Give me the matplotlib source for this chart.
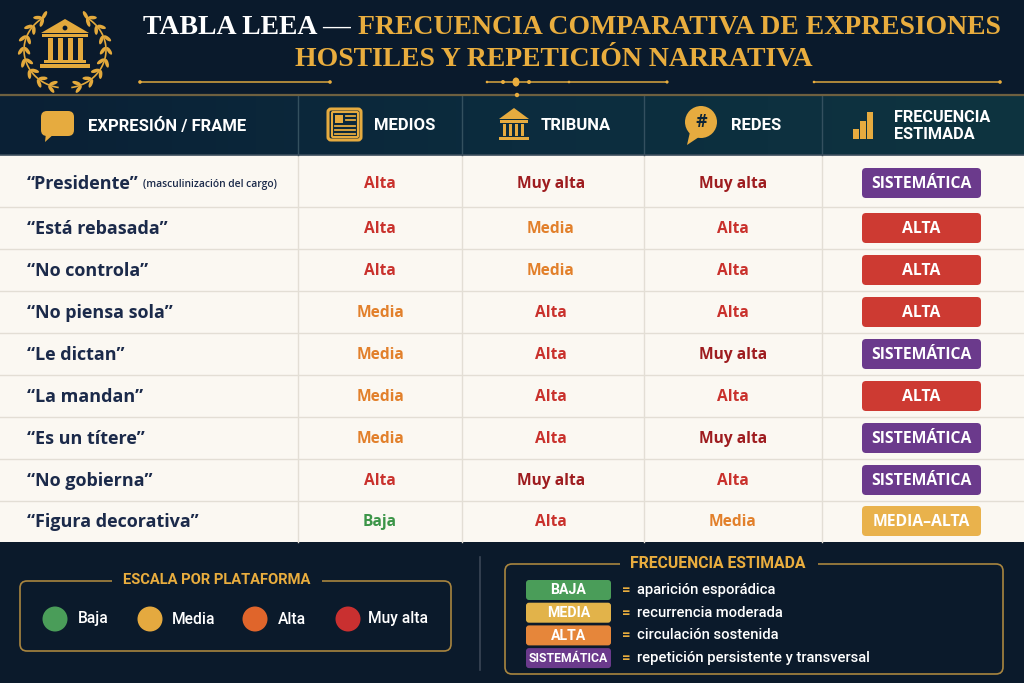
import matplotlib
matplotlib.use('Agg')
import matplotlib.pyplot as plt
from matplotlib.patches import FancyBboxPatch, Rectangle, Circle, Ellipse, Polygon
from matplotlib.colors import LinearSegmentedColormap
import numpy as np

# ---------------- data ----------------
titulo_blanco = "TABLA LEEA — "
titulo_oro_1 = "FRECUENCIA COMPARATIVA DE EXPRESIONES"
titulo_oro_2 = "HOSTILES Y REPETICIÓN NARRATIVA"
columnas = ["EXPRESIÓN / FRAME", "MEDIOS", "TRIBUNA", "REDES", "FRECUENCIA\nESTIMADA"]
expresiones = ["Presidente", "Está rebasada", "No controla", "No piensa sola", "Le dictan",
               "La mandan", "Es un títere", "No gobierna", "Figura decorativa"]
nota_primera = "(masculinización del cargo)"
medios = ["Alta", "Alta", "Alta", "Media", "Media", "Media", "Media", "Alta", "Baja"]
tribuna = ["Muy alta", "Media", "Media", "Alta", "Alta", "Alta", "Alta", "Muy alta", "Alta"]
redes = ["Muy alta", "Alta", "Alta", "Alta", "Muy alta", "Alta", "Muy alta", "Alta", "Media"]
frecuencia = ["SISTEMÁTICA", "ALTA", "ALTA", "ALTA", "SISTEMÁTICA", "ALTA", "SISTEMÁTICA",
              "SISTEMÁTICA", "MEDIA–ALTA"]
escala_titulo = "ESCALA POR PLATAFORMA"
escala = ["Baja", "Media", "Alta", "Muy alta"]
frec_titulo = "FRECUENCIA ESTIMADA"
frec_niveles = ["BAJA", "MEDIA", "ALTA", "SISTEMÁTICA"]
frec_desc = ["aparición esporádica", "recurrencia moderada", "circulación sostenida",
             "repetición persistente y transversal"]

# ---------------- styles ----------------
NAVY = '#0b1b2d'
GOLD = '#e9ad3e'
CREAM = '#fbf8f2'
GRID = '#e3ded5'
ROWTXT = '#1b2a4a'
val_color = {'Alta': '#c9312c', 'Muy alta': '#9e1c1f', 'Media': '#e2802b', 'Baja': '#3b9548'}
badge_color = {'SISTEMÁTICA': '#6b3a8c', 'ALTA': '#cd3a32', 'MEDIA–ALTA': '#e9b24c'}
esc_color = {'Baja': '#4a9d59', 'Media': '#e4a93f', 'Alta': '#e0652b', 'Muy alta': '#c93030'}
lev_color = {'BAJA': '#4a9d59', 'MEDIA': '#e2b34a', 'ALTA': '#e6863a', 'SISTEMÁTICA': '#6b3a8c'}

SANS = ['Open Sans', 'DejaVu Sans']
COND = ['Roboto', 'DejaVu Sans']
SERIF = ['Liberation Serif', 'DejaVu Serif']

W, H = 1024, 683
fig = plt.figure(figsize=(10.24, 6.83), dpi=100)
fig.patch.set_facecolor(NAVY)
ax = fig.add_axes([0, 0, 1, 1])
ax.set_xlim(0, W)
ax.set_ylim(H, 0)
ax.axis('off')
r = fig.canvas.get_renderer()


def fit(s, x, y, width, ha='left', va='center', base=12, **kw):
    t = ax.text(x, y, s, fontsize=base, ha=ha, va=va, **kw)
    w = t.get_window_extent(renderer=r).width
    t.set_fontsize(base * width / w)
    return t


def width_of(t):
    return t.get_window_extent(renderer=r).width


def rbox(x, y, w, h, fc, ec='none', lw=1, rs=4, z=2):
    p = FancyBboxPatch((x, y), w, h, boxstyle=f"round,pad=0,rounding_size={rs}",
                       fc=fc, ec=ec, lw=lw, zorder=z)
    ax.add_patch(p)
    return p


# ---------------- backgrounds ----------------
ax.add_patch(Rectangle((0, 0), W, 95, fc='#0a1a2c', ec='none', zorder=0))
grad = np.linspace(0, 1, 256)[None, :]
cm_head = LinearSegmentedColormap.from_list('h', ['#0a2035', '#0c2c3e', '#0e3440'])
ax.imshow(grad, extent=[0, W, 155, 95], cmap=cm_head, aspect='auto', zorder=0.5)
ax.add_patch(Rectangle((0, 542), W, H - 542, fc='#0b1a2b', ec='none', zorder=0))
ax.plot([0, W], [94.5, 94.5], color='#6e6040', lw=1.6, zorder=3)
ax.add_patch(Circle((517, 95), 2.2, fc=GOLD, ec='none', zorder=4))

# table body
row_edges = [155, 207, 249, 291, 333, 375, 417, 459, 501, 542]
row_centers = [183, 228, 270, 312, 354, 396, 438, 480, 521]
col_edges = [0, 298, 462, 644, 822, W]
ax.add_patch(Rectangle((0, 155), W, 542 - 155, fc=CREAM, ec='none', zorder=0.6))
for ye in row_edges[1:-1]:
    ax.plot([0, W], [ye, ye], color=GRID, lw=1, zorder=1)
for xe in col_edges[1:-1]:
    ax.plot([xe, xe], [155, 542], color=GRID, lw=1, zorder=1)
    ax.plot([xe, xe], [95, 155], color='#34505f', lw=1, zorder=1)
ax.plot([0, W], [155, 155], color='#3b4d5c', lw=1.2, zorder=1)

# ---------------- title ----------------
t1 = ax.text(143, 27, titulo_blanco + titulo_oro_1, fontsize=20, fontfamily=SERIF,
             fontweight='bold', ha='left', va='center', color='white')
wtot = width_of(t1)
fs = 20 * (1002 - 143) / wtot
t1.set_fontsize(fs)
t1.set_text(titulo_blanco)
w1 = width_of(t1)
ax.text(143 + w1, 27, titulo_oro_1, fontsize=fs, fontfamily=SERIF, fontweight='bold',
        ha='left', va='center', color=GOLD)
ax.text(554, 60, titulo_oro_2, fontsize=fs, fontfamily=SERIF, fontweight='bold',
        ha='center', va='center', color=GOLD)

# ornaments
oc = '#c99a3e'
ax.plot([140, 330], [82, 82], color=oc, lw=1.2, zorder=3)
ax.plot([814, 1000], [82, 82], color=oc, lw=1.2, zorder=3)
ax.plot([487, 667], [82, 82], color=oc, lw=1.2, zorder=3)
for px, rad in [(140, 1.8), (330, 1.8), (814, 1.3), (1000, 1.8), (487, 1.3), (667, 1.6),
                (503, 2.0), (529, 2.0), (569, 1.3)]:
    ax.add_patch(Circle((px, 82), rad, fc=GOLD, ec='none', zorder=4))
ax.add_patch(Ellipse((516, 82), 7, 9, fc=GOLD, ec='none', zorder=4))

# ---------------- logo ----------------
LG = '#e3a93c'
ax.add_patch(Polygon([[41, 33], [65, 19], [89, 33]], closed=True, fc=LG, ec='none', zorder=3))
ax.add_patch(Circle((65, 28), 2.4, fc='#0a1a2c', ec='none', zorder=4))
ax.add_patch(Rectangle((42, 34), 46, 3, fc=LG, ec='none', zorder=3))
for cx in [48, 58, 68, 78]:
    ax.add_patch(Rectangle((cx - 0, 38), 4.5, 22, fc=LG, ec='none', zorder=3))
ax.add_patch(Rectangle((44, 60), 42, 3, fc=LG, ec='none', zorder=3))
ax.add_patch(Rectangle((40, 64), 50, 3.5, fc=LG, ec='none', zorder=3))
# laurel wreath
cxw, cyw, Rx, Ry = 65, 50, 41, 38
for side in [-1, 1]:
    ts = np.radians(np.linspace(100, 238, 60))
    xs = cxw + side * (-Rx * np.cos(np.pi - ts)) * -1
    xs = cxw - side * Rx * np.cos(np.pi - ts) * -1 if False else cxw + side * Rx * np.cos(ts) * (-1 if side == 1 else 1) * side
    xs = cxw + (Rx * np.cos(ts) if side == -1 else -Rx * np.cos(ts))
    ys = cyw + Ry * np.sin(ts)
    ax.plot(xs, ys, color=LG, lw=1.2, zorder=3)
    for ang in np.linspace(108, 232, 8):
        t = np.radians(ang)
        px = cxw + (Rx * np.cos(t) if side == -1 else -Rx * np.cos(t))
        py = cyw + Ry * np.sin(t)
        # tangent (toward top of branch)
        dx = (-Rx * np.sin(t)) if side == -1 else (Rx * np.sin(t))
        dy = Ry * np.cos(t)
        tang = np.degrees(np.arctan2(dy, dx))
        # outward normal
        nx, ny = px - cxw, py - cyw
        nn = np.hypot(nx, ny)
        nx, ny = nx / nn, ny / nn
        for off, rot in [(3.2, 35), (-3.2, -35)]:
            ex = px + nx * off
            ey = py + ny * off
            a = tang + (rot if side == -1 else -rot)
            ax.add_patch(Ellipse((ex, ey), 9, 3.6, angle=a, fc=LG, ec='none', zorder=3))
    # top leaf
    t = np.radians(240)
    px = cxw + (Rx * np.cos(t) if side == -1 else -Rx * np.cos(t))
    py = cyw + Ry * np.sin(t)
    ax.add_patch(Ellipse((px, py - 2), 3.6, 9, angle=side * -30, fc=LG, ec='none', zorder=3))

# ---------------- header icons ----------------
IC = '#e6ab3f'
rbox(41, 111, 33, 25, IC, rs=6, z=3)
ax.add_patch(Polygon([[46, 133], [55, 133], [45, 142]], closed=True, fc=IC, ec='none', zorder=3))
rbox(328, 109, 33, 31, 'none', ec=IC, lw=2.2, rs=3, z=3)
rbox(332, 112, 26, 25, 'none', ec=IC, lw=1.5, rs=1, z=3)
ax.add_patch(Rectangle((335, 115), 8, 8, fc=IC, ec='none', zorder=3))
for yy in [116, 120, 126, 130, 134]:
    ax.plot([346 if yy < 124 else 335, 355], [yy, yy], color=IC, lw=1.3, zorder=3)
ax.add_patch(Polygon([[499, 119], [514, 108], [529, 119]], closed=True, fc=IC, ec='none', zorder=3))
ax.add_patch(Rectangle((500, 120), 28, 2.5, fc=IC, ec='none', zorder=3))
for cx in [502, 508, 514, 520]:
    ax.add_patch(Rectangle((cx + 0.5, 124), 3.2, 12, fc=IC, ec='none', zorder=3))
ax.add_patch(Rectangle((499, 136.5), 30, 3.5, fc=IC, ec='none', zorder=3))
ax.add_patch(Circle((701, 122), 16, fc=IC, ec='none', zorder=3))
ax.add_patch(Polygon([[690, 132], [699, 137], [687, 145]], closed=True, fc=IC, ec='none', zorder=3))
ax.text(701, 122, '#', fontsize=14, fontweight='bold', fontfamily=COND, color='#0c2436',
        ha='center', va='center', zorder=4)
for bx, bh in [(853, 10), (860, 18), (867, 27)]:
    ax.add_patch(Rectangle((bx, 139 - bh), 5.5, bh, fc=IC, ec='none', zorder=3))

th = fit(columnas[0], 88, 126, 158, fontfamily=COND, fontweight='bold', color='white')
hfs = th.get_fontsize()
for lbl, lx in zip(columnas[1:4], [374, 541, 731]):
    ax.text(lx, 126, lbl, fontsize=hfs, fontfamily=COND, fontweight='bold', color='white',
            ha='left', va='center')
ax.text(894, 126, columnas[4], fontsize=hfs * 0.98, fontfamily=COND, fontweight='bold',
        color='white', ha='left', va='center', linespacing=1.15)

# ---------------- rows ----------------
tr = fit("“Está rebasada”", 27, 228, 141, fontfamily=SANS, fontweight='bold', color=ROWTXT)
rfs = tr.get_fontsize()
tr.remove()
tv = fit("Muy alta", 0, -50, 68, fontfamily=SANS, fontweight='bold', color='k')
vfs = tv.get_fontsize()
tv.remove()
tb = fit("SISTEMÁTICA", 0, -50, 100, fontfamily=SANS, fontweight='bold', color='k')
bfs = tb.get_fontsize()
tb.remove()

centers_x = [380, 551, 733]
for i in range(len(expresiones)):
    yc = row_centers[i]
    ty = yc + 1
    t = ax.text(27, ty, f"“{expresiones[i]}”", fontsize=rfs, fontfamily=SANS, fontweight='bold',
                color=ROWTXT, ha='left', va='center', zorder=3)
    if i == 0:
        w = width_of(t)
        tn = ax.text(27 + w + 4, ty + 1, nota_primera, fontsize=rfs * 0.5, fontfamily=SANS,
                     fontweight='semibold', color=ROWTXT, ha='left', va='center', zorder=3)
        tn.set_fontsize(rfs * 0.5 * 135 / width_of(tn))
    for cx, vals in zip(centers_x, [medios, tribuna, redes]):
        v = vals[i]
        ax.text(cx, ty, v, fontsize=vfs, fontfamily=SANS, fontweight='bold',
                color=val_color[v], ha='center', va='center', zorder=3)
    f = frecuencia[i]
    rbox(862, yc - 15, 119, 30, badge_color[f], rs=4, z=3)
    ax.text(921.5, ty, f, fontsize=bfs, fontfamily=SANS, fontweight='bold', color='white',
            ha='center', va='center', zorder=4)

# ---------------- footer / legends ----------------
LB = '#a9853f'
rbox(20, 581, 431, 70, 'none', ec=LB, lw=1.2, rs=7, z=2)
ax.add_patch(Rectangle((112, 572), 210, 16, fc='#0b1a2b', ec='none', zorder=2.5))
fit(escala_titulo, 217, 580, 188, ha='center', fontfamily=COND, fontweight='bold', color=GOLD,
    zorder=3)
circ_x = [55, 150, 255, 348]
lab_x = [78, 172, 278, 368]
tl = fit("Muy alta", 0, -50, 60, fontfamily=COND, fontweight='medium', color='white')
lfs = tl.get_fontsize()
tl.remove()
for cx, lx, name in zip(circ_x, lab_x, escala):
    ax.add_patch(Ellipse((cx, 619), 25, 25, fc=esc_color[name], ec='none', zorder=3))
    ax.text(lx, 619, name, fontsize=lfs, fontfamily=COND, fontweight='medium', color='white',
            ha='left', va='center', zorder=3)

ax.plot([480, 480], [557, 670], color='#3a4656', lw=1.2, zorder=2)

rbox(505, 564, 498, 110, 'none', ec=LB, lw=1.2, rs=7, z=2)
ax.add_patch(Rectangle((620, 555), 198, 18, fc='#0b1a2b', ec='none', zorder=2.5))
fit(frec_titulo, 718, 564, 175, ha='center', fontfamily=COND, fontweight='bold', color=GOLD,
    zorder=3)
td = fit("= aparición esporádica", 0, -50, 149, fontfamily=COND, fontweight='medium', color='w')
dfs = td.get_fontsize()
td.remove()
tb2 = fit("SISTEMÁTICA", 0, -50, 80, fontfamily=COND, fontweight='bold', color='w')
b2fs = tb2.get_fontsize()
tb2.remove()
for k, (lev, desc) in enumerate(zip(frec_niveles, frec_desc)):
    yc = 590 + 22.7 * k
    rbox(526, yc - 10, 85, 20, lev_color[lev], rs=3, z=3)
    ax.text(568.5, yc + 0.5, lev, fontsize=b2fs if lev == 'SISTEMÁTICA' else b2fs * 1.15,
            fontfamily=COND, fontweight='bold', color='white', ha='center', va='center', zorder=4)
    ax.text(622, yc, "=", fontsize=dfs, fontfamily=COND, fontweight='bold', color=GOLD,
            ha='left', va='center', zorder=4)
    ax.text(637, yc, desc, fontsize=dfs, fontfamily=COND, fontweight='medium', color='white',
            ha='left', va='center', zorder=4)

fig.savefig('out.png', dpi=100, facecolor=fig.get_facecolor())
